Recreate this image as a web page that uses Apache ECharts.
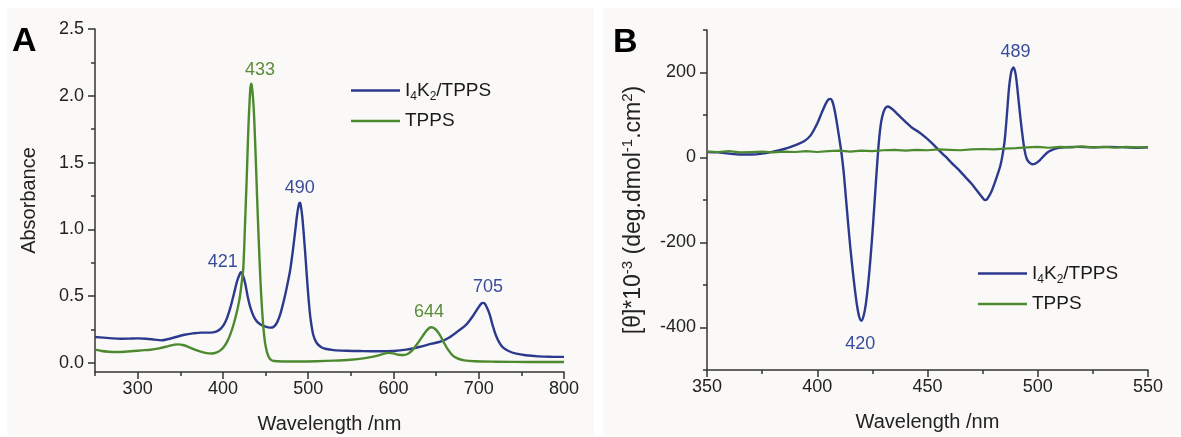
<!DOCTYPE html>
<html>
<head>
    <meta charset="UTF-8">
    <title>UV-Vis and CD spectra</title>
    <script src="https://cdn.jsdelivr.net/npm/echarts@6/dist/echarts.min.js"></script>
    <style>
        html, body { margin: 0; padding: 0; background: #fff; }
        #main { width: 1181px; height: 437px; }
    </style>
</head>
<body>
<div id="main"></div>
<script type="text/javascript">

    // ---- panel A : absorbance ----
    var aBlueX = [250, 260, 270, 280, 290, 300, 310, 320, 328, 335, 345, 355, 365, 375, 385, 392, 397, 401, 405, 409,
        413, 417, 420, 421, 423, 426, 429, 432, 436, 440, 445, 450, 455, 458, 461, 464, 467, 470, 473, 476,
        479, 482, 485, 487, 489, 490, 491, 493, 495, 497, 499, 501, 503, 506, 510, 515, 520, 530, 545, 560,
        580, 600, 615, 630, 645, 655, 665, 675, 685, 693, 699, 703, 705, 707, 710, 713, 716, 720, 724, 728,
        735, 744, 755, 770, 785, 800];
    var aBlueY = [0.195, 0.19, 0.185, 0.182, 0.183, 0.185, 0.182, 0.175, 0.17, 0.178, 0.195, 0.212, 0.222, 0.228, 0.228, 0.235, 0.255, 0.285, 0.34, 0.42,
        0.52, 0.62, 0.67, 0.68, 0.665, 0.6, 0.5, 0.42, 0.35, 0.31, 0.285, 0.272, 0.265, 0.266, 0.28, 0.31, 0.36, 0.43, 0.51, 0.60,
        0.70, 0.84, 1.0, 1.11, 1.185, 1.20, 1.19, 1.10, 0.95, 0.78, 0.60, 0.44, 0.32, 0.21, 0.15, 0.12, 0.107, 0.097, 0.092, 0.09,
        0.088, 0.09, 0.10, 0.12, 0.145, 0.16, 0.19, 0.235, 0.285, 0.35, 0.41, 0.445, 0.45, 0.445, 0.41, 0.36, 0.29, 0.21, 0.155, 0.12,
        0.09, 0.07, 0.058, 0.05, 0.047, 0.046];

    var aGreenX = [250, 258, 266, 275, 285, 295, 305, 315, 325, 335, 343, 348, 353, 360, 367, 374, 381, 387, 392, 397,
        401, 405, 409, 413, 417, 420, 422, 424, 426, 428, 430, 432, 433, 434, 436, 438, 440, 442, 444, 446,
        448, 450, 453, 456, 460, 470, 490, 510, 530, 550, 565, 578, 588, 594, 600, 606, 612, 617, 622, 628,
        634, 639, 644, 649, 654, 659, 664, 669, 675, 683, 695, 720, 760, 800];
    var aGreenY = [0.10, 0.09, 0.085, 0.083, 0.085, 0.09, 0.095, 0.10, 0.11, 0.125, 0.138, 0.14, 0.135, 0.12, 0.10, 0.085, 0.074, 0.072, 0.078, 0.095,
        0.12, 0.16, 0.22, 0.30, 0.40, 0.50, 0.60, 0.72, 1.05, 1.40, 1.78, 2.04, 2.09, 2.07, 1.92, 1.62, 1.26, 0.92, 0.62, 0.39,
        0.23, 0.13, 0.055, 0.025, 0.015, 0.012, 0.012, 0.014, 0.018, 0.025, 0.035, 0.05, 0.068, 0.076, 0.072, 0.062, 0.06, 0.07, 0.095, 0.145,
        0.20, 0.245, 0.268, 0.255, 0.215, 0.155, 0.10, 0.06, 0.035, 0.02, 0.013, 0.01, 0.008, 0.008];

    var aXMajor = [300, 400, 500, 600, 700, 800];
    var aXMinor = [250, 350, 450, 550, 650, 750];
    var aYMajor = [0, 0.5, 1.0, 1.5, 2.0, 2.5];
    var aYMinor = [0.25, 0.75, 1.25, 1.75, 2.25];
    var aBluePeaks = [[421, 0.68], [490, 1.20], [705, 0.45]];
    var aGreenPeaks = [[433, 2.09], [644, 0.27]];

    // ---- panel B : circular dichroism ----
    var bBlueX = [350, 355, 360, 365, 370, 375, 380, 385, 388, 391, 394, 397, 400, 402, 404, 405, 406, 407, 408, 409,
        410, 411, 412, 413, 414, 415, 416, 417, 418, 419, 420, 421, 422, 423, 424, 425, 426, 427, 428, 429,
        430, 431, 432, 434, 436, 438, 440, 443, 446, 449, 452, 455, 458, 461, 464, 467, 470, 473, 475, 476,
        477, 479, 481, 483, 484, 485, 486, 487, 488, 489, 490, 491, 492, 493, 494, 495, 496, 497.5, 499, 501,
        503, 505, 508, 512, 518, 525, 532, 540, 546, 550];
    var bBlueY = [13, 12, 9, 7, 7, 9, 14, 20, 25, 31, 38, 52, 80, 105, 128, 136, 138, 130, 108, 78,
        45, 10, -35, -95, -155, -212, -262, -308, -347, -374, -384, -373, -346, -302, -246, -180, -105, -28, 40, 84,
        106, 117, 120, 114, 104, 94, 84, 70, 60, 48, 34, 18, 3, -13, -28, -45, -62, -82, -95, -100,
        -98, -80, -52, -20, 5, 40, 100, 165, 202, 212, 195, 150, 100, 55, 18, -3, -11, -16, -14, -6,
        5, 14, 21, 24, 25, 24, 25, 24, 23, 24];

    var bGreenX = [350, 355, 360, 365, 370, 375, 380, 385, 390, 395, 400, 405, 410, 415, 420, 425, 430, 435, 440, 445,
        450, 455, 460, 465, 470, 475, 480, 485, 490, 495, 500, 505, 510, 515, 520, 525, 530, 535, 540, 545, 550];
    var bGreenY = [14, 13, 15, 12, 13, 14, 12, 14, 13, 15, 13, 15, 16, 14, 16, 15, 17, 18, 16, 18,
        17, 19, 18, 17, 19, 20, 19, 21, 22, 24, 25, 23, 25, 24, 26, 24, 25, 23, 25, 24, 24];

    var bXMajor = [350, 400, 450, 500, 550];
    var bXMinor = [375, 425, 475, 525];
    var bYMajor = [-400, -200, 0, 200];
    var bYMinor = [-500, -300, -100, 100, 300];
    var bBluePeaks = [[420, -384], [489, 212]];

    var seriesNames = ['I4K2/TPPS', 'TPPS'];

    var FONT = 'Arial, "Liberation Sans", sans-serif';
    var BLUE = '#2c3a8e', GREEN = '#4d8a2f';
    var BLUE_TXT = '#3b4c9c', GREEN_TXT = '#5a8c3a';
    var AXIS_COL = '#333';

    function zip(xs, ys) {
        return xs.map(function (x, i) { return [x, ys[i]]; });
    }

    function mainAxis(grid, min, max, major, isY, extra) {
        var ax = {
            gridIndex: grid, type: 'value', min: min, max: max,
            position: isY ? 'left' : 'bottom',
            axisLine: { show: true, onZero: false, lineStyle: { color: AXIS_COL, width: 1.5 } },
            axisTick: { show: true, length: 7, customValues: major, lineStyle: { color: AXIS_COL, width: 1.5 } },
            axisLabel: { customValues: major, fontSize: 18, color: '#222', fontFamily: FONT, margin: isY ? 11 : 8 },
            splitLine: { show: false }
        };
        for (var k in extra) ax[k] = extra[k];
        return ax;
    }

    // second axis on the same grid, only for the short minor ticks
    function minorAxis(grid, min, max, minor, isY) {
        return {
            gridIndex: grid, type: 'value', min: min, max: max,
            position: isY ? 'left' : 'bottom',
            axisLine: { show: false, onZero: false },
            axisTick: { show: true, length: 4, customValues: minor, lineStyle: { color: AXIS_COL, width: 1.5 } },
            axisLabel: { show: false },
            splitLine: { show: false }
        };
    }

    function peakMarks(peaks, offsets, color) {
        return {
            symbol: 'circle', symbolSize: 1, silent: true,
            itemStyle: { color: 'rgba(0,0,0,0)' },
            label: { show: true, position: 'inside', formatter: '{b}', fontSize: 18, color: color, fontFamily: FONT },
            data: peaks.map(function (p, i) {
                return { name: String(p[0]), coord: p, label: { offset: offsets[i] } };
            })
        };
    }

    var titleStyle = { fontSize: 20, color: '#222', fontFamily: FONT };
    var legendRich = {
        n: { fontSize: 19, lineHeight: 24, color: '#1a1a1a', fontFamily: FONT },
        s: { fontSize: 12, lineHeight: 12, verticalAlign: 'bottom', color: '#1a1a1a', fontFamily: FONT }
    };
    function legendFmt(name) {
        return name === 'I4K2/TPPS' ? '{n|I}{s|4}{n|K}{s|2}{n|/TPPS}' : '{n|' + name + '}';
    }
    function makeLegend(left, top) {
        return {
            left: left, top: top, orient: 'vertical', icon: 'rect', itemWidth: 49, itemHeight: 2.5, itemGap: 9,
            data: seriesNames, formatter: legendFmt, textStyle: { rich: legendRich }, selectedMode: false
        };
    }

    var chart = echarts.init(document.getElementById('main'));
    var option = {
        backgroundColor: '#ffffff',
        animation: false,
        textStyle: { fontFamily: FONT },
        graphic: [
            { type: 'rect', z: -10, silent: true, shape: { x: 7, y: 8, width: 587, height: 427 }, style: { fill: '#faf9f7' } },
            { type: 'rect', z: -10, silent: true, shape: { x: 603, y: 8, width: 578, height: 427 }, style: { fill: '#faf9f7' } },
            { type: 'text', left: 12, top: 25, style: { text: 'A', font: 'bold 34px Arial, "Liberation Sans"', fill: '#000' } },
            { type: 'text', left: 613, top: 26, style: { text: 'B', font: 'bold 34px Arial, "Liberation Sans"', fill: '#000' } }
        ],
        grid: [
            { left: 95, top: 29, width: 469, height: 343, outerBoundsMode: 'none' },
            { left: 707, top: 30, width: 441, height: 340, outerBoundsMode: 'none' }
        ],
        legend: [makeLegend(346, 76), makeLegend(973, 259)],
        xAxis: [
            mainAxis(0, 250, 800, aXMajor, false, { name: 'Wavelength /nm', nameLocation: 'middle', nameGap: 42, nameTextStyle: titleStyle }),
            mainAxis(1, 350, 550, bXMajor, false, { name: 'Wavelength /nm', nameLocation: 'middle', nameGap: 42, nameTextStyle: titleStyle }),
            minorAxis(0, 250, 800, aXMinor, false),
            minorAxis(1, 350, 550, bXMinor, false)
        ],
        yAxis: [
            mainAxis(0, -0.067, 2.5, aYMajor, true, {
                name: 'Absorbance', nameLocation: 'middle', nameGap: 56, nameTextStyle: titleStyle,
                axisLabel: { customValues: aYMajor, fontSize: 18, color: '#222', fontFamily: FONT, margin: 11,
                    formatter: function (v) { return v.toFixed(1); } }
            }),
            mainAxis(1, -500, 300, bYMajor, true, {
                name: '{n|[θ]*10}{p|-3}{n| (deg.dmol}{p|-1}{n|.cm}{p|2}{n|)}',
                nameLocation: 'middle', nameGap: 59,
                nameTextStyle: {
                    fontSize: 23, color: '#222', fontFamily: FONT, padding: [0, 20, 0, 0],
                    rich: {
                        n: { fontSize: 23, lineHeight: 28, color: '#222', fontFamily: FONT },
                        p: { fontSize: 15, lineHeight: 15, verticalAlign: 'top', color: '#222', fontFamily: FONT }
                    }
                }
            }),
            minorAxis(0, -0.067, 2.5, aYMinor, true),
            minorAxis(1, -500, 300, bYMinor, true)
        ],
        series: [
            {
                name: 'I4K2/TPPS', type: 'line', xAxisIndex: 0, yAxisIndex: 0, data: zip(aBlueX, aBlueY),
                symbol: 'none', smooth: 0.3, lineStyle: { color: BLUE, width: 2.4 }, itemStyle: { color: BLUE },
                markPoint: peakMarks(aBluePeaks, [[-18, -10], [0, -15], [5, -16]], BLUE_TXT)
            },
            {
                name: 'TPPS', type: 'line', xAxisIndex: 0, yAxisIndex: 0, data: zip(aGreenX, aGreenY),
                symbol: 'none', smooth: 0.3, lineStyle: { color: GREEN, width: 2.4 }, itemStyle: { color: GREEN },
                markPoint: peakMarks(aGreenPeaks, [[9, -14], [-2, -15]], GREEN_TXT)
            },
            {
                name: 'I4K2/TPPS', type: 'line', xAxisIndex: 1, yAxisIndex: 1, data: zip(bBlueX, bBlueY),
                symbol: 'none', smooth: 0.3, lineStyle: { color: BLUE, width: 2.4 }, itemStyle: { color: BLUE },
                markPoint: peakMarks(bBluePeaks, [[-1, 23], [2, -15]], BLUE_TXT)
            },
            {
                name: 'TPPS', type: 'line', xAxisIndex: 1, yAxisIndex: 1, data: zip(bGreenX, bGreenY),
                symbol: 'none', lineStyle: { color: GREEN, width: 2.2 }, itemStyle: { color: GREEN }
            }
        ]
    };
    chart.setOption(option);
</script>
</body>
</html>
